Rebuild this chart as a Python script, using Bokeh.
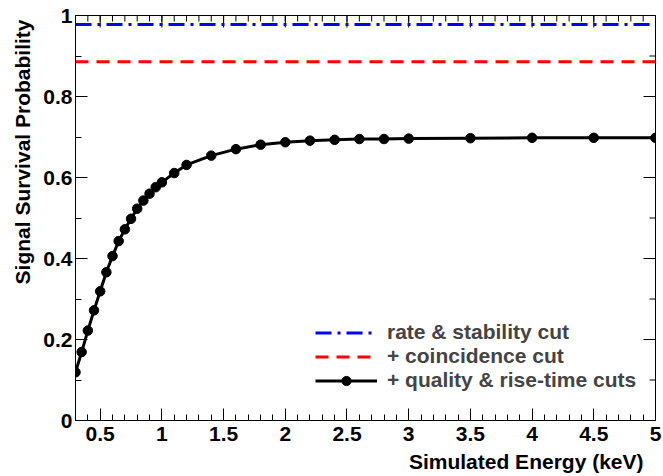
import math
from bokeh.plotting import figure
from bokeh.models import (Range1d, FixedTicker, CustomJSTickFormatter, Title,
                          Legend, LegendItem)
from bokeh.embed import file_html
from bokeh.resources import INLINE

# ---------------- data ----------------
energy = [0.30, 0.35, 0.40, 0.45, 0.50, 0.55, 0.60, 0.65, 0.70, 0.75,
          0.80, 0.85, 0.90, 0.95, 1.00, 1.1, 1.2, 1.4, 1.6, 1.8,
          2.0, 2.2, 2.4, 2.6, 2.8, 3.0, 3.5, 4.0, 4.5, 5.0]
survival = [0.119, 0.169, 0.222, 0.272, 0.319, 0.366, 0.406, 0.443, 0.472, 0.498,
            0.523, 0.543, 0.560, 0.576, 0.588, 0.611, 0.631, 0.654, 0.670, 0.681,
            0.687, 0.691, 0.693, 0.695, 0.695, 0.696, 0.697, 0.698, 0.698, 0.698]
rate_cut_level = 0.978
coinc_cut_level = 0.886

x_major = [0.5, 1.0, 1.5, 2.0, 2.5, 3.0, 3.5, 4.0, 4.5, 5.0]
x_minor = [round(0.3 + 0.1 * i, 1) for i in range(48)]
y_major = [0.0, 0.2, 0.4, 0.6, 0.8, 1.0]
y_minor = [round(0.1 * i, 1) for i in range(11)]

x_title = "Simulated Energy (keV)"
y_title = "Signal Survival Probability"
legend_labels = ["rate & stability cut", "+ coincidence cut", "+ quality & rise-time cuts"]

FONT = "Liberation Sans"
FSIZE = "21px"
X_MIN, X_MAX = 0.3, 5.0
Y_MIN, Y_MAX = 0.0, 1.0

p = figure(width=663, height=476, output_backend="svg", toolbar_location=None,
           x_range=Range1d(X_MIN, X_MAX), y_range=Range1d(Y_MIN, Y_MAX),
           min_border_left=75, min_border_right=8, min_border_top=15, min_border_bottom=56)
p.xgrid.visible = False
p.ygrid.visible = False
p.outline_line_color = "black"
p.outline_line_width = 1
p.outline_line_alpha = 1.0
p.background_fill_color = "white"
p.border_fill_color = "white"

fmt = CustomJSTickFormatter(code="return (Math.round(tick*10)/10).toString();")


def style(ax, major, minor):
    ax.ticker = FixedTicker(ticks=major, minor_ticks=minor)
    ax.major_tick_in = 12
    ax.major_tick_out = 0
    ax.minor_tick_in = 6
    ax.minor_tick_out = 0
    ax.axis_line_color = "black"
    ax.major_tick_line_color = "black"
    ax.minor_tick_line_color = "black"
    ax.formatter = fmt
    ax.major_label_text_font = FONT
    ax.major_label_text_font_style = "bold"
    ax.major_label_text_font_size = FSIZE
    ax.major_label_text_color = "black"


style(p.xaxis[0], x_major, x_minor)
p.xaxis[0].major_label_standoff = 6
style(p.yaxis[0], y_major, y_minor)
p.yaxis[0].major_label_standoff = 3

# ticks on the top and right edges of the frame (half of each dash is clipped by the frame)
p.scatter(x_major, [Y_MAX] * len(x_major), marker="dash", angle=math.pi / 2, size=24,
          line_color="black", line_width=1)
p.scatter(x_minor, [Y_MAX] * len(x_minor), marker="dash", angle=math.pi / 2, size=12,
          line_color="black", line_width=1)
p.scatter([X_MAX] * len(y_major), y_major, marker="dash", size=24,
          line_color="black", line_width=1)
p.scatter([X_MAX] * len(y_minor), y_minor, marker="dash", size=12,
          line_color="black", line_width=1)

x_span = [X_MIN, X_MAX]
r_rate = p.line(x_span, [rate_cut_level, rate_cut_level], line_color="#0000ff",
                line_width=3, line_dash="16 6 3 6")
r_coinc = p.line(x_span, [coinc_cut_level, coinc_cut_level], line_color="#ff0000",
                 line_width=3, line_dash="13 8")
r_qline = p.line(energy, survival, line_color="black", line_width=3)
r_qpts = p.scatter(energy, survival, size=9.5, color="black")

legend = Legend(items=[LegendItem(label=legend_labels[0], renderers=[r_rate]),
                       LegendItem(label=legend_labels[1], renderers=[r_coinc]),
                       LegendItem(label=legend_labels[2], renderers=[r_qline, r_qpts])],
                location=(240, 28), glyph_width=62, glyph_height=23, label_height=23,
                label_standoff=10, spacing=0, padding=0, margin=0,
                border_line_alpha=0, background_fill_alpha=0,
                label_text_font=FONT, label_text_font_style="bold",
                label_text_font_size=FSIZE)
p.add_layout(legend)

p.add_layout(Title(text=x_title, align="right", offset=12, standoff=8, text_font=FONT,
                   text_font_style="bold", text_font_size=FSIZE, text_color="black"),
             "below")
p.add_layout(Title(text=y_title, align="right", offset=4, standoff=14, text_font=FONT,
                   text_font_style="bold", text_font_size=FSIZE, text_color="black"),
             "left")

open("out.html", "w").write(file_html(p, INLINE))
